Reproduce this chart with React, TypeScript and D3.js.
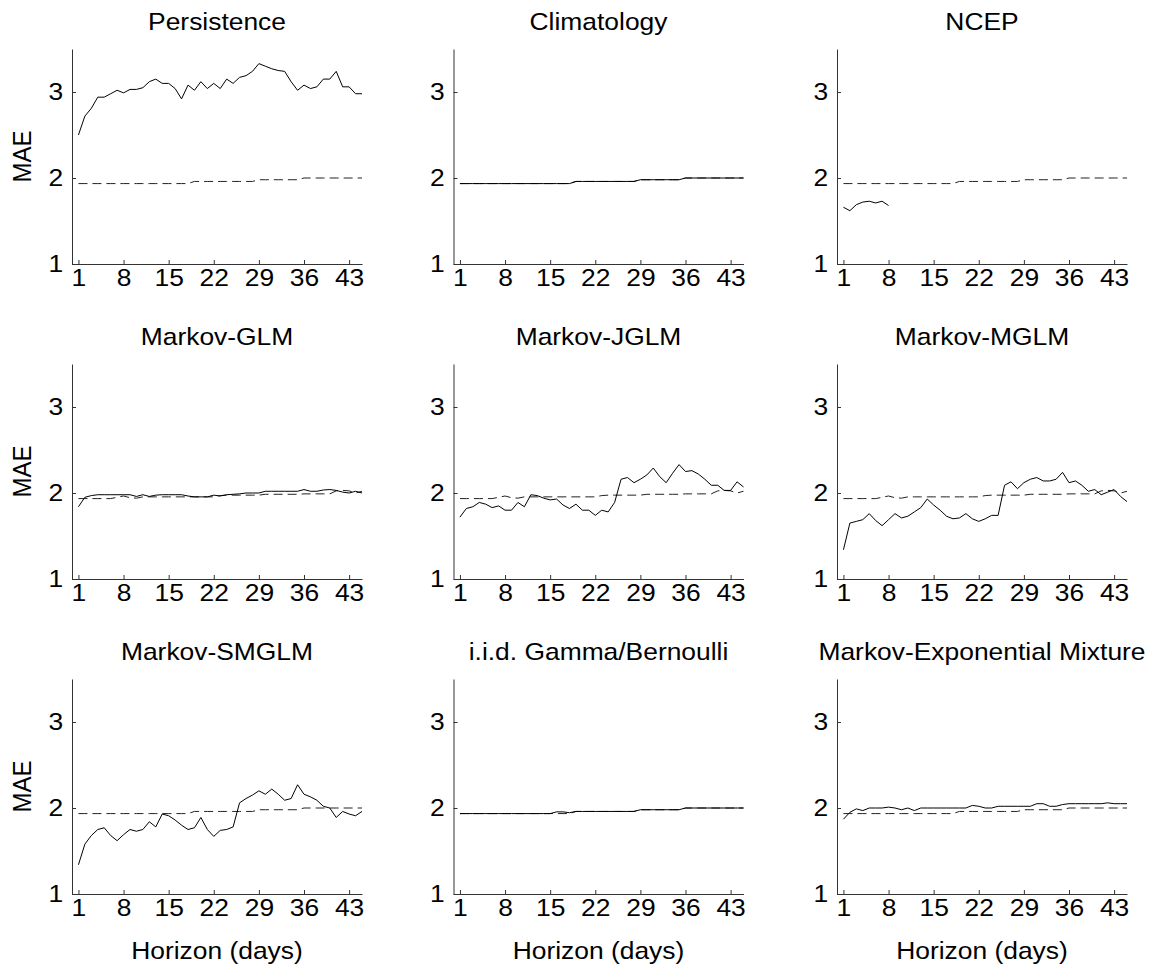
import React, { useEffect, useRef } from 'react';
import * as d3 from 'd3';

// horizon ticks and MAE ticks
const xTicks = [1, 8, 15, 22, 29, 36, 43];
const yTicks = [1, 2, 3];

// reference curves (dashed)
const climatology = [
  1.935, 1.935, 1.935, 1.935, 1.935, 1.935, 1.935, 1.935, 1.935, 1.935,
  1.935, 1.935, 1.935, 1.935, 1.935, 1.935, 1.935, 1.935, 1.96, 1.96,
  1.96, 1.96, 1.96, 1.96, 1.96, 1.96, 1.96, 1.96, 1.98, 1.98,
  1.98, 1.98, 1.98, 1.98, 1.98, 2.0, 2.0, 2.0, 2.0, 2.0,
  2.0, 2.0, 2.0, 2.0, 2.0
];
const glmReference = [
  1.935, 1.935, 1.935, 1.935, 1.935, 1.935, 1.95, 1.965, 1.945, 1.94,
  1.955, 1.955, 1.955, 1.955, 1.955, 1.955, 1.955, 1.955, 1.955, 1.955,
  1.955, 1.955, 1.97, 1.975, 1.975, 1.975, 1.975, 1.975, 1.975, 1.985,
  1.985, 1.985, 1.985, 1.985, 1.985, 1.99, 1.99, 1.99, 1.99, 1.99,
  2.025, 2.03, 2.025, 2.0, 2.02
];

// model curves (solid)
const persistence = [
  2.5, 2.72, 2.81, 2.94, 2.94, 2.98, 3.02, 2.99, 3.03, 3.03,
  3.05, 3.12, 3.15, 3.1, 3.1, 3.04, 2.92, 3.08, 3.02, 3.12,
  3.04, 3.1, 3.04, 3.15, 3.1, 3.17, 3.19, 3.24, 3.33, 3.3,
  3.27, 3.25, 3.24, 3.12, 3.02, 3.08, 3.04, 3.06, 3.15, 3.15,
  3.24, 3.06, 3.06, 2.98, 2.98
];
const ncep = [1.66, 1.62, 1.69, 1.72, 1.73, 1.71, 1.73, 1.68];
const markovGLM = [
  1.84, 1.95, 1.97, 1.98, 1.98, 1.98, 1.98, 1.98, 1.98, 1.96,
  1.98, 1.96, 1.975, 1.98, 1.98, 1.98, 1.98, 1.965, 1.955, 1.955,
  1.955, 1.975, 1.965, 1.98, 1.985, 1.99, 2.0, 2.0, 2.0, 2.02,
  2.02, 2.02, 2.02, 2.02, 2.02, 2.04, 2.02, 2.02, 2.035, 2.04,
  2.03, 2.01, 2.0, 2.02, 2.0
];
const markovJGLM = [
  1.72, 1.82, 1.84, 1.89, 1.87, 1.83, 1.85, 1.8, 1.8, 1.89,
  1.84, 1.98, 1.97, 1.94, 1.92, 1.93, 1.86, 1.82, 1.87, 1.8,
  1.8, 1.74, 1.8, 1.78, 1.89, 2.16, 2.18, 2.12, 2.16, 2.21,
  2.29, 2.19, 2.12, 2.23, 2.33, 2.25, 2.26, 2.22, 2.16, 2.09,
  2.09, 2.03, 2.03, 2.13, 2.07
];
const markovMGLM = [
  1.34, 1.65, 1.67, 1.69, 1.76, 1.68, 1.62, 1.69, 1.76, 1.71,
  1.73, 1.78, 1.83, 1.93, 1.86, 1.8, 1.73, 1.7, 1.71, 1.76,
  1.7, 1.67, 1.7, 1.74, 1.74, 2.09, 2.13, 2.05, 2.12, 2.16,
  2.18, 2.14, 2.14, 2.16, 2.24, 2.12, 2.14, 2.09, 2.02, 2.04,
  1.98, 2.01, 2.04, 1.96, 1.9
];
const markovSMGLM = [
  1.34, 1.58, 1.68, 1.75, 1.77, 1.68, 1.62, 1.69, 1.75, 1.73,
  1.75, 1.84, 1.78, 1.93, 1.91, 1.86, 1.8, 1.75, 1.77, 1.89,
  1.75, 1.67, 1.74, 1.75, 1.78, 2.06, 2.11, 2.15, 2.2, 2.16,
  2.22, 2.16, 2.09, 2.11, 2.27, 2.16, 2.13, 2.09, 2.02, 2.0,
  1.89, 1.96, 1.93, 1.91, 1.96
];
const iidGammaBernoulli = [
  1.935, 1.935, 1.935, 1.935, 1.935, 1.935, 1.935, 1.935, 1.935, 1.935,
  1.935, 1.935, 1.935, 1.935, 1.935, 1.955, 1.955, 1.945, 1.96, 1.96,
  1.96, 1.96, 1.96, 1.96, 1.96, 1.96, 1.96, 1.96, 1.98, 1.98,
  1.98, 1.98, 1.98, 1.98, 1.98, 2.0, 2.0, 2.0, 2.0, 2.0,
  2.0, 2.0, 2.0, 2.0, 2.0
];
const markovExpMixture = [
  1.87, 1.95, 1.99, 1.97, 2.0, 2.0, 2.0, 2.01, 2.0, 1.98,
  2.0, 1.97, 2.0, 2.0, 2.0, 2.0, 2.0, 2.0, 2.0, 2.0,
  2.03, 2.02, 2.0, 2.0, 2.02, 2.02, 2.02, 2.02, 2.02, 2.02,
  2.05, 2.05, 2.02, 2.02, 2.04, 2.05, 2.05, 2.05, 2.05, 2.05,
  2.05, 2.06, 2.05, 2.05, 2.05
];

const titles = [
  'Persistence', 'Climatology', 'NCEP',
  'Markov-GLM', 'Markov-JGLM', 'Markov-MGLM',
  'Markov-SMGLM', 'i.i.d. Gamma/Bernoulli', 'Markov-Exponential Mixture'
];
const solids = [
  persistence, climatology, ncep,
  markovGLM, markovJGLM, markovMGLM,
  markovSMGLM, iidGammaBernoulli, markovExpMixture
];
const dashes = [
  climatology, climatology, climatology,
  glmReference, glmReference, glmReference,
  climatology, climatology, climatology
];

const FONT = 'Liberation Sans, Arial, Helvetica, sans-serif';
const FONT_SIZE = 24;
const STRETCH = 1.1;

export default function App() {
  const ref = useRef<SVGSVGElement>(null);

  useEffect(() => {
    const svg = d3.select(ref.current);
    svg.selectAll('*').remove();

    const width = 290;
    const height = 215;
    const colX = [72, 453.5, 837];
    const rowY = [49, 364, 679];

    const x = d3.scaleLinear().domain([0, 45]).range([0, width]);
    const y = d3.scaleLinear().domain([1, 3.5]).range([height, 0]);
    const line = d3.line<number>()
      .x((d, i) => x(i + 1))
      .y((d) => y(d));

    titles.forEach((title, k) => {
      const col = k % 3;
      const row = Math.floor(k / 3);
      const g = svg.append('g')
        .attr('transform', `translate(${colX[col]},${rowY[row]})`);

      // bottom axis, ticks pointing inward
      const xa = g.append('g')
        .attr('transform', `translate(0,${height})`)
        .call(d3.axisBottom(x).tickValues(xTicks).tickFormat(d3.format('d'))
          .tickSize(-4).tickSizeOuter(0).tickPadding(5));
      // left axis
      const ya = g.append('g')
        .call(d3.axisLeft(y).tickValues(yTicks).tickFormat(d3.format('d'))
          .tickSize(-4).tickSizeOuter(0).tickPadding(8));

      [xa, ya].forEach((a) => {
        a.attr('font-family', FONT).attr('font-size', FONT_SIZE);
        a.select('.domain').attr('stroke', '#333');
        a.selectAll('.tick line').attr('stroke', '#333');
        a.selectAll('.tick text').attr('fill', '#000').attr('transform', `scale(${STRETCH},1)`);
      });

      // dashed reference then solid model
      g.append('path')
        .datum(dashes[k])
        .attr('d', line)
        .attr('fill', 'none')
        .attr('stroke', '#222')
        .attr('stroke-width', 1)
        .attr('stroke-dasharray', '9,5');
      g.append('path')
        .datum(solids[k])
        .attr('d', line)
        .attr('fill', 'none')
        .attr('stroke', '#000')
        .attr('stroke-width', 1);

      g.append('text')
        .attr('transform', `translate(${width / 2},-19) scale(${STRETCH},1)`)
        .attr('text-anchor', 'middle')
        .attr('font-family', FONT)
        .attr('font-size', FONT_SIZE)
        .text(title);

      if (col === 0) {
        g.append('text')
          .attr('transform', `translate(-41,${height / 2}) rotate(-90) scale(1,${STRETCH})`)
          .attr('text-anchor', 'middle')
          .attr('font-family', FONT)
          .attr('font-size', FONT_SIZE)
          .text('MAE');
      }
      if (row === 2) {
        g.append('text')
          .attr('transform', `translate(${width / 2},${height + 65}) scale(${STRETCH},1)`)
          .attr('text-anchor', 'middle')
          .attr('font-family', FONT)
          .attr('font-size', FONT_SIZE)
          .text('Horizon (days)');
      }
    });
  }, []);

  return (
    <div style={{ position: 'absolute', left: 0, top: 0 }}>
      <svg ref={ref} width={1151} height={970} style={{ display: 'block', background: '#fff' }} />
    </div>
  );
}
